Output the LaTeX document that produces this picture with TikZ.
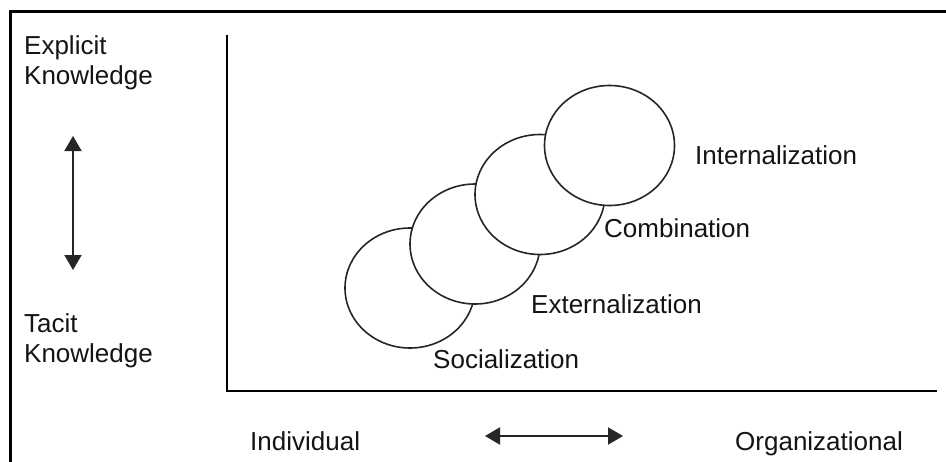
\documentclass[tikz,border=0pt]{standalone}
\usepackage{fontspec}
\setmainfont{Liberation Sans}
\usetikzlibrary{shapes.geometric,arrows.meta}
\tikzset{
  lbl/.style={inner sep=0pt, anchor=base west, text=black!92, font=\fontsize{26}{29}\selectfont},
  mlbl/.style={inner sep=0pt, anchor=north west, align=left, text=black!92, font=\fontsize{26}{30}\selectfont},
  bubble/.style={ellipse, draw=black!85, line width=1.6pt, fill=white, minimum width=130pt, minimum height=120pt, inner sep=0pt},
  axisline/.style={line width=2pt, draw=black},
  dblarrow/.style={line width=2pt, draw=black!85, {Triangle[width=17pt,length=15pt]}-{Triangle[width=17pt,length=15pt]}},
}
\begin{document}
\begin{tikzpicture}[x=1pt,y=-1pt]
\useasboundingbox (0,0) rectangle (946,461);
\fill[white] (0,0) rectangle (946,461);
% frame (only top and left edges visible)
\coordinate (fbl) at (10.5,470);
\coordinate (ftl) at (10.5,11);
\coordinate (ftr) at (960,11);
\draw[line width=3pt] (fbl) -- (ftl) -- (ftr);
% axes
\coordinate (ytop) at (227,35);
\coordinate (origin) at (227,391);
\coordinate (xend) at (937,391);
\draw[axisline] (ytop) -- (origin);
\draw[axisline] (226,391) -- (xend);
% left labels
\node[mlbl] (explicit) at (24,35.5) {Explicit\\Knowledge};
\node[mlbl] (tacit) at (24,313.5) {Tacit\\Knowledge};
\coordinate (vtop) at (73,136);
\coordinate (vbot) at (73,270);
\draw[dblarrow] (vtop) -- (vbot);
% bottom labels
\node[lbl] (indiv) at (250,450) {Individual};
\node[lbl] (org) at (735,450) {Organizational};
\coordinate (hl) at (485,436);
\coordinate (hr) at (623,436);
\draw[dblarrow] (hl) -- (hr);
% bubbles
\node[bubble] (c1) at (410,288) {};
\node[bubble] (c2) at (475,244) {};
\node[bubble] (c3) at (540,194.5) {};
\node[bubble] (c4) at (609.5,145.5) {};
% bubble labels
\node[lbl] (soc) at (433,368) {Socialization};
\node[lbl] (ext) at (531,313) {Externalization};
\node[lbl] (comb) at (604,237) {Combination};
\node[lbl] (intl) at (695,164) {Internalization};
\end{tikzpicture}
\end{document}
